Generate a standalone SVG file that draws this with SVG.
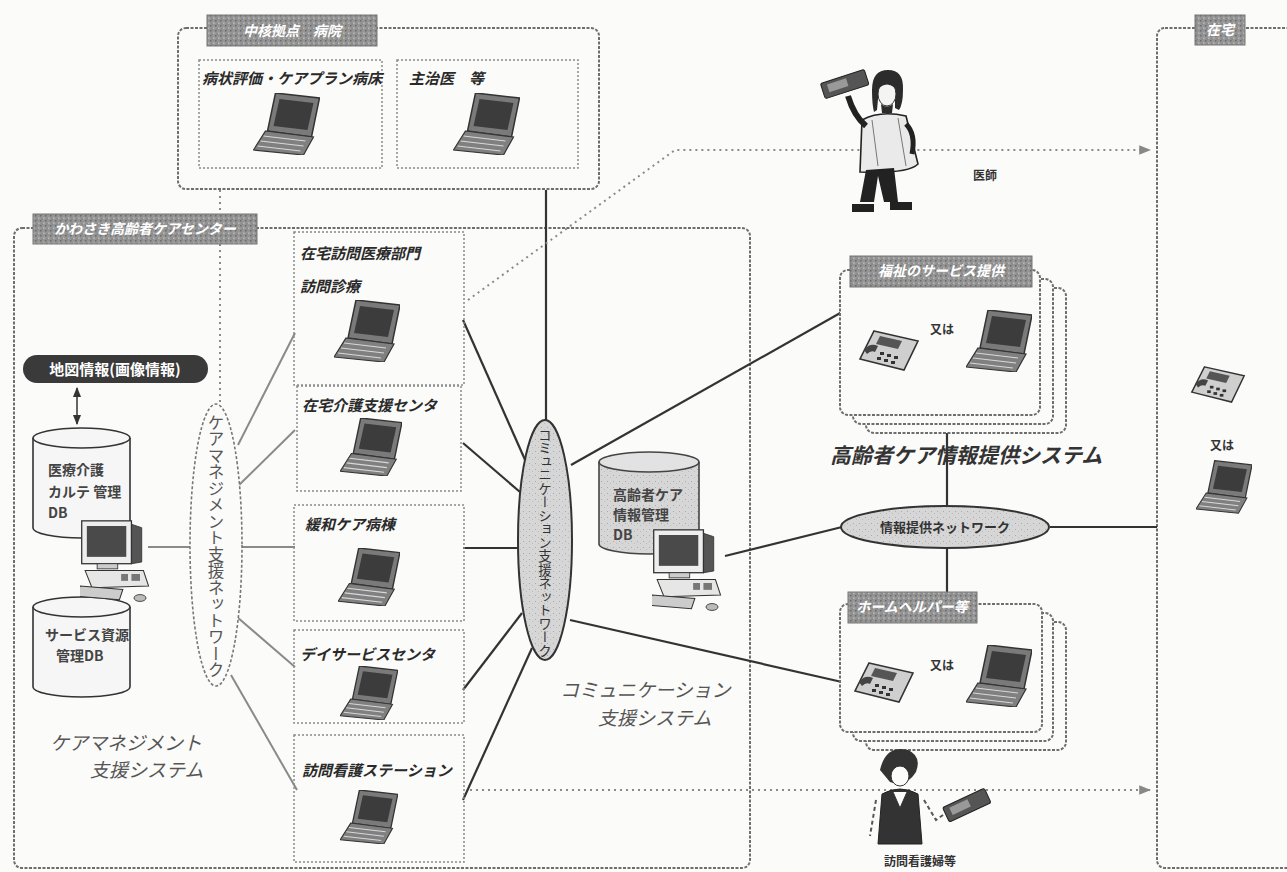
<svg xmlns="http://www.w3.org/2000/svg" xmlns:xlink="http://www.w3.org/1999/xlink" width="1287" height="872" viewBox="0 0 1287 872">
  <style>
    text { font-family: "Noto Sans CJK JP", "Noto Sans", sans-serif; }
    .frame { fill: none; stroke: #6e6e6e; stroke-width: 2; stroke-dasharray: 3 1.5; }
    .sheet { fill: #fbfbf9; stroke: #6e6e6e; stroke-width: 2; stroke-dasharray: 3 1.5; }
    .inner { fill: none; stroke: #8a8a8a; stroke-width: 1.5; stroke-dasharray: 2 2; }
    .hdr { fill: url(#grain); stroke: #777; stroke-width: 1; }
    .hdrtxt { fill: #fff; font-size: 14px; font-weight: bold; font-style: italic; }
    .lbl { fill: #2a2a2a; font-size: 15px; font-weight: bold; font-style: italic; }
    .sys { fill: #555; font-size: 19px; font-style: italic; }
    .small { fill: #333; font-size: 12px; font-weight: bold; }
    .dbt { fill: #444; font-size: 14px; font-weight: bold; }
    .solid { stroke: #333; stroke-width: 2.2; fill: none; }
    .grey { stroke: #8a8a8a; stroke-width: 2; fill: none; }
    .dot { stroke: #8a8a8a; stroke-width: 2; stroke-dasharray: 2 4; fill: none; }
  </style>
  <defs>
    <pattern id="grain" width="5" height="5" patternUnits="userSpaceOnUse">
      <rect width="5" height="5" fill="#959595"/>
      <rect x="0" y="0" width="1.5" height="1.5" fill="#6a6a6a"/>
      <rect x="3" y="2.5" width="1.5" height="1.5" fill="#b8b8b8"/>
      <rect x="1.5" y="3.5" width="1" height="1" fill="#707070"/>
    </pattern>
    <pattern id="speck" width="6" height="6" patternUnits="userSpaceOnUse">
      <rect width="6" height="6" fill="#d6d6d6"/>
      <rect x="1" y="1" width="1" height="1" fill="#aaa"/>
      <rect x="4" y="3" width="1" height="1" fill="#bbb"/>
    </pattern>
    <marker id="arr" viewBox="0 0 10 10" refX="9" refY="5" markerWidth="7" markerHeight="7" orient="auto-start-reverse">
      <path d="M0,1 L10,5 L0,9 z" fill="#333"/>
    </marker>
    <marker id="arrg" viewBox="0 0 10 10" refX="9" refY="5" markerWidth="6" markerHeight="6" orient="auto">
      <path d="M0,1 L10,5 L0,9 z" fill="#888"/>
    </marker>
    <!-- notebook computer, 3/4 view -->
    <symbol id="laptop" viewBox="0 0 66 62">
      <polygon points="22,0 66,5 58,44 14,38" fill="#7a7a7a" stroke="#333" stroke-width="1.5"/>
      <polygon points="26,6 60,10 54,37 20,33" fill="#3c3c3c"/>
      <polygon points="12,38 60,44 50,62 0,57" fill="#808080" stroke="#333" stroke-width="1.2"/>
      <g stroke="#d8d8d8" stroke-width="1.2">
        <line x1="10" y1="43" x2="52" y2="48"/>
        <line x1="7" y1="48" x2="50" y2="53"/>
        <line x1="4" y1="53" x2="47" y2="58"/>
      </g>
    </symbol>
    <!-- fax / telephone unit -->
    <symbol id="fax" viewBox="0 0 62 44">
      <polygon points="16,3 60,13 46,42 2,31" fill="#cfcfcf" stroke="#333" stroke-width="1.6"/>
      <polygon points="22,8 44,13 40,21 18,16" fill="#555"/>
      <path d="M6,22 q6,-8 14,-4 l-3,6 q-4,-2 -8,2 z" fill="#444"/>
      <g fill="#333">
        <rect x="22" y="24" width="4" height="3"/>
        <rect x="29" y="26" width="4" height="3"/>
        <rect x="36" y="28" width="4" height="3"/>
        <rect x="19" y="29" width="4" height="3"/>
        <rect x="26" y="31" width="4" height="3"/>
        <rect x="33" y="33" width="4" height="3"/>
      </g>
    </symbol>
    <!-- desktop workstation -->
    <symbol id="desktop" viewBox="0 0 84 100">
      <polygon points="60,6 72,10 72,50 60,52" fill="#555" stroke="#333"/>
      <rect x="2" y="2" width="58" height="50" fill="#eee" stroke="#333" stroke-width="1.5"/>
      <rect x="8" y="8" width="46" height="36" fill="#4a4a4a"/>
      <rect x="20" y="52" width="24" height="6" fill="#ccc" stroke="#333"/>
      <polygon points="6,60 74,60 80,78 14,80" fill="#e6e6e6" stroke="#333" stroke-width="1.2"/>
      <g fill="#777"><rect x="60" y="64" width="10" height="8"/><rect x="48" y="64" width="8" height="8"/></g>
      <polygon points="0,78 50,82 46,94 -4,90" fill="#ccc" stroke="#333" stroke-width="1.2"/>
      <ellipse cx="70" cy="92" rx="7" ry="4" fill="#bbb" stroke="#333"/>
    </symbol>
  </defs>

  <rect width="1287" height="872" fill="#fbfbf9"/>

  <!-- frames -->
  <g id="hospital">
    <rect class="frame" x="178" y="28" width="421" height="161" rx="8"/>
    <rect class="hdr" x="207" y="15" width="170" height="31"/>
    <text class="hdrtxt" x="292" y="36" text-anchor="middle">中核拠点　病院</text>
    <rect class="inner" x="199" y="60" width="183" height="108"/>
    <text class="lbl" x="202" y="84" font-size="16">病状評価・ケアプラン病床</text>
    <use href="#laptop" x="253" y="93" width="67" height="62"/>
    <rect class="inner" x="397" y="60" width="181" height="108"/>
    <text class="lbl" x="409" y="84" font-size="16">主治医　等</text>
    <use href="#laptop" x="453" y="93" width="67" height="62"/>
  </g>

  <g id="care-center">
    <rect class="frame" x="14" y="228" width="736" height="640" rx="8"/>
  </g>

  <g id="home">
    <rect class="frame" x="1157" y="28" width="150" height="840" rx="8"/>
    <rect class="hdr" x="1195" y="15" width="50" height="30"/>
    <text class="hdrtxt" x="1220" y="35" text-anchor="middle">在宅</text>
    <use href="#fax" x="1190" y="364" width="56" height="40"/>
    <text class="small" x="1210" y="450" font-size="11">又は</text>
    <use href="#laptop" x="1196" y="460" width="56" height="54"/>
  </g>

  <!-- connectors -->
  <g id="connectors">
    <line class="dot" x1="220" y1="190" x2="220" y2="405"/>
    <line class="solid" x1="546" y1="190" x2="546" y2="421"/>
    <line x1="77" y1="388" x2="77" y2="424" stroke="#333" stroke-width="1.5" marker-start="url(#arr)" marker-end="url(#arr)"/>
    <!-- care management network spokes -->
    <line class="grey" x1="148" y1="547" x2="190" y2="547"/>
    <line class="grey" x1="242" y1="547" x2="295" y2="547"/>
    <line class="grey" x1="238" y1="445" x2="295" y2="333"/>
    <line class="grey" x1="237" y1="487" x2="295" y2="430"/>
    <line class="grey" x1="237" y1="617" x2="295" y2="667"/>
    <line class="grey" x1="231" y1="675" x2="297" y2="790"/>
    <!-- communication network spokes -->
    <line class="solid" x1="463" y1="320" x2="526" y2="462"/>
    <line class="solid" x1="463" y1="443" x2="520" y2="492"/>
    <line class="solid" x1="463" y1="548" x2="518" y2="548"/>
    <line class="solid" x1="463" y1="690" x2="522" y2="613"/>
    <line class="solid" x1="463" y1="800" x2="532" y2="648"/>
    <line class="solid" x1="571" y1="465" x2="842" y2="312"/>
    <line class="solid" x1="570" y1="620" x2="842" y2="682"/>
    <line class="solid" x1="725" y1="556" x2="842" y2="527"/>
    <!-- information network -->
    <line class="solid" x1="947" y1="432" x2="947" y2="506"/>
    <line class="solid" x1="947" y1="548" x2="947" y2="603"/>
    <line class="solid" x1="1050" y1="527" x2="1157" y2="527" stroke-width="2"/>
    <!-- visiting routes -->
    <polyline class="dot" points="468,300 675,150 1150,150" marker-end="url(#arrg)"/>
    <line class="dot" x1="470" y1="790" x2="1150" y2="790" stroke-dasharray="3 26" marker-end="url(#arrg)"/>
  </g>

  <!-- left header drawn over the dotted line -->
  <g id="care-center-header">
    <rect class="hdr" x="33" y="214" width="224" height="30"/>
    <text class="hdrtxt" x="145" y="234" text-anchor="middle">かわさき高齢者ケアセンター</text>
  </g>

  <g id="map-info">
    <rect x="23" y="355" width="185" height="28" rx="14" fill="#3a3a3a"/>
    <text x="115" y="375" text-anchor="middle" fill="#fff" font-size="15" font-weight="bold">地図情報(画像情報)</text>
  </g>

  <g id="db-records">
    <path d="M33,438 v90 a48.5,10 0 0 0 97,0 v-90" fill="#f6f6f6" stroke="#333" stroke-width="1.6"/>
    <ellipse cx="81.5" cy="438" rx="48.5" ry="10" fill="#f6f6f6" stroke="#333" stroke-width="1.6"/>
    <text class="dbt" x="48" y="475">医療介護</text>
    <text class="dbt" x="48" y="497" font-size="13">カルテ 管理</text>
    <text class="dbt" x="48" y="518">DB</text>
  </g>

  <g id="db-services">
    <path d="M33,607 v80 a48.5,10 0 0 0 97,0 v-80" fill="#f6f6f6" stroke="#333" stroke-width="1.6"/>
    <ellipse cx="81.5" cy="607" rx="48.5" ry="10" fill="#f6f6f6" stroke="#333" stroke-width="1.6"/>
    <text class="dbt" x="45" y="640" font-size="13">サービス資源</text>
    <text class="dbt" x="56" y="661">管理DB</text>
  </g>

  <g id="cm-workstation">
    <use href="#desktop" x="80" y="512" width="72" height="100"/>
  </g>

  <g id="cm-network">
    <ellipse cx="216" cy="545" rx="26" ry="141" fill="#fbfbf9" stroke="#777" stroke-width="1.6" stroke-dasharray="3 2"/>
    <text x="216" y="414" fill="#555" font-size="16.5" writing-mode="vertical-rl">ケアマネジメント支援ネットワーク</text>
  </g>

  <g id="cm-system-label">
    <text class="sys" x="50" y="750">ケアマネジメント</text>
    <text class="sys" x="90" y="777">支援システム</text>
  </g>

  <g id="home-medical">
    <rect class="inner" x="294" y="232" width="170" height="153"/>
    <text class="lbl" x="300" y="259">在宅訪問医療部門</text>
    <text class="lbl" x="300" y="292">訪問診療</text>
    <use href="#laptop" x="334" y="300" width="66" height="62"/>
  </g>
  <g id="home-care-support">
    <rect class="inner" x="297" y="386" width="164" height="105"/>
    <text class="lbl" x="302" y="411">在宅介護支援センタ</text>
    <use href="#laptop" x="340" y="418" width="62" height="58"/>
  </g>
  <g id="palliative-ward">
    <rect class="inner" x="294" y="505" width="170" height="116"/>
    <text class="lbl" x="305" y="530">緩和ケア病棟</text>
    <use href="#laptop" x="338" y="548" width="62" height="58"/>
  </g>
  <g id="day-service">
    <rect class="inner" x="294" y="630" width="170" height="93"/>
    <text class="lbl" x="300" y="660">デイサービスセンタ</text>
    <use href="#laptop" x="340" y="666" width="58" height="54"/>
  </g>
  <g id="visiting-nurse">
    <rect class="inner" x="294" y="735" width="170" height="127"/>
    <text class="lbl" x="302" y="776">訪問看護ステーション</text>
    <use href="#laptop" x="340" y="790" width="58" height="54"/>
  </g>

  <g id="comm-network">
    <ellipse cx="545" cy="540" rx="27" ry="120" fill="url(#speck)" stroke="#333" stroke-width="2"/>
    <text x="545" y="428" fill="#333" font-size="13.5" writing-mode="vertical-rl">コミュニケーション支援ネットワーク</text>
  </g>

  <g id="comm-system-label">
    <text class="sys" x="560" y="697">コミュニケーション</text>
    <text class="sys" x="598" y="725">支援システム</text>
  </g>

  <g id="db-care-info">
    <path d="M599,462 v82 a50,10 0 0 0 100,0 v-82" fill="url(#speck)" stroke="#444" stroke-width="1.6"/>
    <ellipse cx="649" cy="462" rx="50" ry="10" fill="#e2e2e2" stroke="#444" stroke-width="1.6"/>
    <text class="dbt" x="613" y="500" font-size="13">高齢者ケア</text>
    <text class="dbt" x="613" y="520" font-size="13">情報管理</text>
    <text class="dbt" x="613" y="540" font-size="13">DB</text>
    <use href="#desktop" x="652" y="527" width="72" height="88"/>
  </g>

  <g id="service-providers">
    <rect class="sheet" x="866" y="288" width="200" height="145" rx="8"/>
    <rect class="sheet" x="853" y="279" width="200" height="145" rx="8"/>
    <rect class="sheet" x="840" y="270" width="200" height="145" rx="8"/>
    <rect class="hdr" x="850" y="256" width="182" height="31"/>
    <text class="hdrtxt" x="941" y="276" text-anchor="middle">福祉のサービス提供</text>
    <use href="#fax" x="858" y="328" width="62" height="44"/>
    <text class="small" x="930" y="334" font-size="11">又は</text>
    <use href="#laptop" x="966" y="310" width="66" height="62"/>
  </g>

  <g id="info-system-label">
    <text x="830" y="463" fill="#333" font-size="21" font-weight="bold" font-style="italic">高齢者ケア情報提供システム</text>
  </g>

  <g id="info-network">
    <ellipse cx="945" cy="527" rx="104" ry="21" fill="url(#speck)" stroke="#333" stroke-width="2"/>
    <text x="945" y="532" text-anchor="middle" fill="#333" font-size="13" font-weight="bold">情報提供ネットワーク</text>
  </g>

  <g id="helpers">
    <rect class="sheet" x="866" y="622" width="200" height="128" rx="8"/>
    <rect class="sheet" x="853" y="613" width="200" height="128" rx="8"/>
    <rect class="sheet" x="840" y="604" width="202" height="128" rx="8"/>
    <rect class="hdr" x="848" y="592" width="129" height="31"/>
    <text class="hdrtxt" x="912" y="612" text-anchor="middle">ホームヘルパー等</text>
    <use href="#fax" x="853" y="660" width="62" height="44"/>
    <text class="small" x="930" y="670" font-size="11">又は</text>
    <use href="#laptop" x="966" y="645" width="66" height="62"/>
  </g>

  <g id="doctor">
    <g transform="rotate(-18 845 85)">
      <rect x="822" y="76" width="46" height="16" rx="2" fill="#555" stroke="#222"/>
      <rect x="828" y="79" width="20" height="8" fill="#999"/>
    </g>
    <!-- hair, face and beard -->
    <path d="M872,90 q0,-20 16,-20 q16,0 15,20 q0,14 -4,20 l-4,-2 l0,-20 l-16,0 l-2,22 l-3,2 q-2,-8 -2,-22 z" fill="#2c2c2c"/>
    <ellipse cx="887" cy="94" rx="9" ry="12" fill="#f4f4f2" stroke="#333"/>
    <path d="M879,86 q8,-6 16,0" stroke="#2c2c2c" stroke-width="3" fill="none"/>
    <path d="M881,104 q6,5 12,0 l-1,9 h-10 z" fill="#2c2c2c"/>
    <!-- coat -->
    <path d="M862,120 q18,-10 44,-4 l12,48 q-10,10 -58,8 z" fill="#eaeaea" stroke="#222" stroke-width="1.6"/>
    <path d="M872,120 l6,46 M898,118 l8,48" stroke="#777" fill="none"/>
    <path d="M866,126 q-12,-10 -18,-30" stroke="#222" stroke-width="6" fill="none"/>
    <path d="M906,124 q10,10 6,30" stroke="#222" stroke-width="5" fill="none"/>
    <!-- trousers and shoes -->
    <path d="M866,170 l-6,32 h14 l4,-26 l6,26 h14 l-4,-34 z" fill="#222"/>
    <path d="M852,204 h22 v8 h-22 z M890,202 h22 v8 h-22 z" fill="#222"/>
    <text class="small" x="973" y="180" font-size="11">医師</text>
  </g>

  <g id="nurse">
    <path d="M880,770 q6,-26 28,-20 q14,6 8,22 q-10,16 -26,10 z" fill="#333"/>
    <ellipse cx="900" cy="776" rx="9" ry="10" fill="#fbfbf9" stroke="#333"/>
    <path d="M882,794 q18,-10 36,0 l4,50 h-44 z" fill="#333" stroke="#222"/>
    <path d="M893,792 l7,16 l7,-16" fill="#fbfbf9" stroke="#333"/>
    <path d="M876,800 l-6,36 M924,800 l12,20 l14,-10" stroke="#555" stroke-width="2" stroke-dasharray="4 3" fill="none"/>
    <g transform="rotate(-25 965 806)">
      <rect x="944" y="798" width="46" height="16" rx="2" fill="#555" stroke="#222"/>
      <rect x="950" y="801" width="20" height="8" fill="#999"/>
    </g>
    <text class="small" x="884" y="866" font-size="10">訪問看護婦等</text>
  </g>
</svg>
